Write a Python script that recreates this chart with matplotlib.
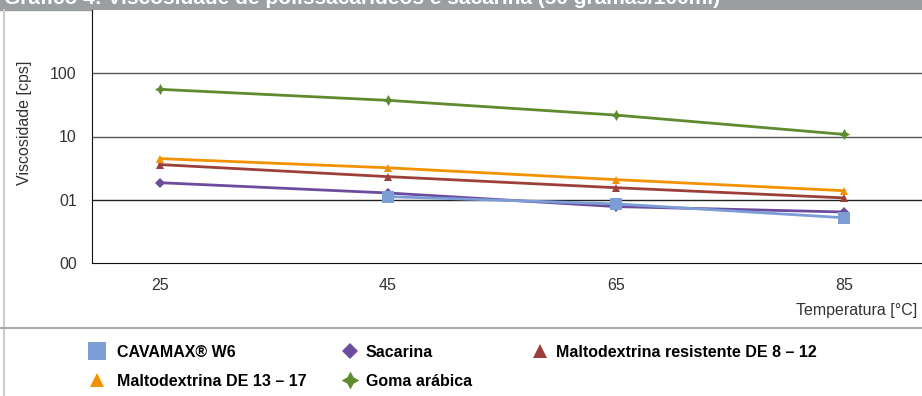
import numpy as np
import matplotlib.pyplot as plt
from matplotlib.lines import Line2D
from matplotlib.patches import Rectangle

plt.rcParams['font.family'] = ['Liberation Sans', 'DejaVu Sans']

# Data
temps = [25, 45, 65, 85]
cavamax = [np.nan, 1.12, 0.86, 0.52]
sacarina = [1.86, 1.28, 0.78, 0.64]
malto_res = [3.6, 2.32, 1.55, 1.07]
malto = [4.47, 3.2, 2.08, 1.39]
goma = [55.7, 37.3, 21.8, 10.8]

y_ticks = [0.1, 1, 10, 100]
y_labels = ["00", "01", "10", "100"]

series = [
    ("Sacarina", sacarina, "#6b4c9e", "D", 5),
    ("CAVAMAX® W6", cavamax, "#7c9dd6", "s", 8),
    ("Maltodextrina resistente DE 8 – 12", malto_res, "#9c3f3b", "^", 6),
    ("Maltodextrina DE 13 – 17", malto, "#f39200", "^", 6),
    ("Goma arábica", goma, "#5f8a2f", (4, 1, 0), 8),
]

W, H = 922, 396
fig = plt.figure(figsize=(W / 100, H / 100), dpi=100)
ax = fig.add_axes([92 / W, 1 - 263 / H, 1 - 92 / W, (263 - 10) / H])

handles = {}
for name, vals, col, mk, ms in series:
    ln, = ax.plot(temps, vals, color=col, lw=2, marker=mk, markersize=ms,
                  markeredgewidth=0, zorder=3)
    handles[name] = ln

ax.set_yscale("log")
ax.set_ylim(0.1, 10 ** 3.0)
ax.set_xlim(19.04, 91.84)
ax.set_yticks(y_ticks)
ax.set_yticklabels(y_labels)
ax.minorticks_off()
ax.set_xticks(temps)
ax.tick_params(length=0, labelsize=11.5, labelcolor="#333333")
ax.tick_params(axis="x", pad=11)
ax.tick_params(axis="y", pad=11)
for yv in [1, 10, 100]:
    ax.axhline(yv, color="#222222" if yv == 1 else "#555555", lw=1, zorder=1)
for s in ["top", "right"]:
    ax.spines[s].set_visible(False)
ax.spines["left"].set_color("#111111")
ax.spines["bottom"].set_color("#111111")

fig.text(25 / W, 1 - 123 / H, "Viscosidade [cps]", rotation=90,
         ha="center", va="center", fontsize=11.5, color="#333333")
fig.text(917 / W, 1 - 310 / H, "Temperatura [°C]", ha="right", va="center",
         fontsize=11.5, color="#333333")

# frame decorations
fig.add_artist(Rectangle((0, 1 - 10 / H), 1, 10 / H, transform=fig.transFigure,
                         color="#9b9fa2", zorder=0))
fig.text(4 / W, 1 - 3.5 / H, "Gráfico 4: Viscosidade de polissacarídeos e sacarina (50 gramas/100ml)",
         ha="left", va="baseline", fontsize=15, fontweight="bold", color="white")
fig.add_artist(Line2D([4 / W, 4 / W], [0, 1 - 10 / H], transform=fig.transFigure,
                      color="#cccccc", lw=1.5))
fig.add_artist(Line2D([0, 1], [1 - 328 / H, 1 - 328 / H], transform=fig.transFigure,
                      color="#aaaaaa", lw=1.5))

# legend, three columns placed like the reference
columns = [
    (["CAVAMAX® W6", "Maltodextrina DE 13 – 17"], 89, 0.75),
    (["Sacarina", "Goma arábica"], 342, 0.5),
    (["Maltodextrina resistente DE 8 – 12"], 532, 0.5),
]
for names, x0, pad in columns:
    lh = []
    for name in names:
        h = handles[name]
        lh.append(Line2D([], [], color=h.get_color(), marker=h.get_marker(),
                         linestyle="none", markersize=h.get_markersize() * 1.6,
                         markeredgewidth=0))
    fig.legend(lh, names, ncol=1, frameon=False, loc="upper left",
               bbox_to_anchor=(x0 / W, 1 - 345 / H), borderpad=0, borderaxespad=0,
               prop={"weight": "bold", "size": 11.5}, handlelength=1.0,
               handletextpad=pad, labelspacing=0.85)

fig.savefig("out.png", dpi=100)
